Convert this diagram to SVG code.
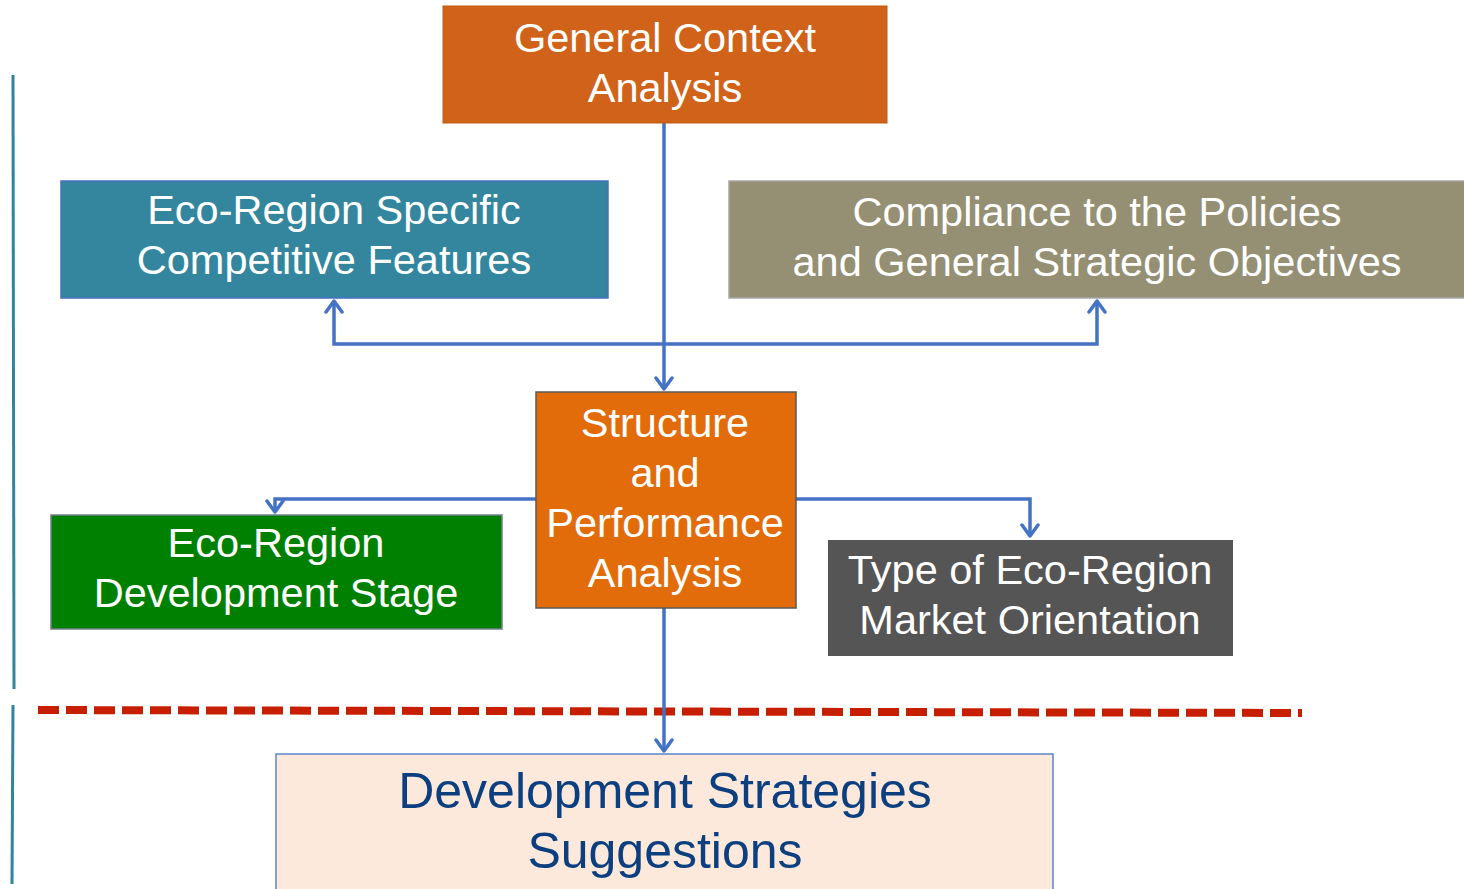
<svg xmlns="http://www.w3.org/2000/svg" width="1464" height="889" viewBox="0 0 1464 889">
<defs>
<style>
.t{font-family:"Liberation Sans",Arial,sans-serif;font-size:41.5px;fill:#ffffff;text-anchor:middle}
.c{fill:none;stroke:#4472C4;stroke-width:3.5}
</style>
<marker id="ah" viewBox="0 0 20 20" refX="16" refY="10" markerWidth="20" markerHeight="20" markerUnits="userSpaceOnUse" orient="auto">
<path d="M5,2 L16,10 L5,18" fill="none" stroke="#4472C4" stroke-width="3.5" stroke-linecap="round" stroke-linejoin="round"/>
</marker>
</defs>
<rect width="1464" height="889" fill="#ffffff"/>
<g id="sidebar">
<line x1="13" y1="75" x2="14" y2="689" stroke="#31849B" stroke-width="3"/>
<line x1="13" y1="705" x2="12" y2="884" stroke="#31849B" stroke-width="3"/>
</g>
<g id="divider">
<line x1="38" y1="710" x2="1302" y2="713" stroke="#C81E00" stroke-width="8" stroke-dasharray="21 7"/>
</g>
<g id="connectors">
<path class="c" d="M664,123 V389" marker-end="url(#ah)"/>
<path class="c" d="M664,344 H334 V301" marker-end="url(#ah)"/>
<path class="c" d="M664,344 H1097 V301" marker-end="url(#ah)"/>
<path class="c" d="M536,499 H275 V512" marker-end="url(#ah)"/>
<path class="c" d="M796,499 H1030 V536" marker-end="url(#ah)"/>
<path class="c" d="M664,608 V751" marker-end="url(#ah)"/>
</g>
<g id="general-context">
<rect x="443" y="6" width="444" height="117" fill="#D06219" stroke="#C55A11" stroke-width="1"/>
<text class="t" x="665" y="52">General Context</text>
<text class="t" x="665" y="102">Analysis</text>
</g>
<g id="eco-region-specific">
<rect x="61" y="181" width="547" height="117" fill="#33869D" stroke="#4472C4" stroke-width="1.5"/>
<text class="t" x="334" y="224">Eco-Region Specific</text>
<text class="t" x="334" y="274">Competitive Features</text>
</g>
<g id="compliance">
<rect x="729" y="181" width="740" height="117" fill="#958F73" stroke="#A6A6A6" stroke-width="1.5"/>
<text class="t" x="1097" y="226">Compliance to the Policies</text>
<text class="t" x="1097" y="276">and General Strategic Objectives</text>
</g>
<g id="structure">
<rect x="536" y="392" width="260" height="216" fill="#E36C0A" stroke="#595959" stroke-width="1.5"/>
<text class="t" x="665" y="437">Structure</text>
<text class="t" x="665" y="487">and</text>
<text class="t" x="665" y="537">Performance</text>
<text class="t" x="665" y="587">Analysis</text>
</g>
<g id="development-stage">
<rect x="51" y="515" width="451" height="114" fill="#008000" stroke="#6F7F8F" stroke-width="1.5"/>
<text class="t" x="276" y="557">Eco-Region</text>
<text class="t" x="276" y="607">Development Stage</text>
</g>
<g id="market-orientation">
<rect x="828" y="540" width="405" height="116" fill="#555555"/>
<text class="t" x="1030" y="584">Type of Eco-Region</text>
<text class="t" x="1030" y="634">Market Orientation</text>
</g>
<g id="suggestions">
<rect x="276" y="754" width="777" height="140" fill="#FCE9DB" stroke="#5B85CC" stroke-width="1.5"/>
<text class="t" x="665" y="808" style="font-size:50px;fill:#0B3F7F">Development Strategies</text>
<text class="t" x="665" y="868" style="font-size:50px;fill:#0B3F7F">Suggestions</text>
</g>
</svg>
